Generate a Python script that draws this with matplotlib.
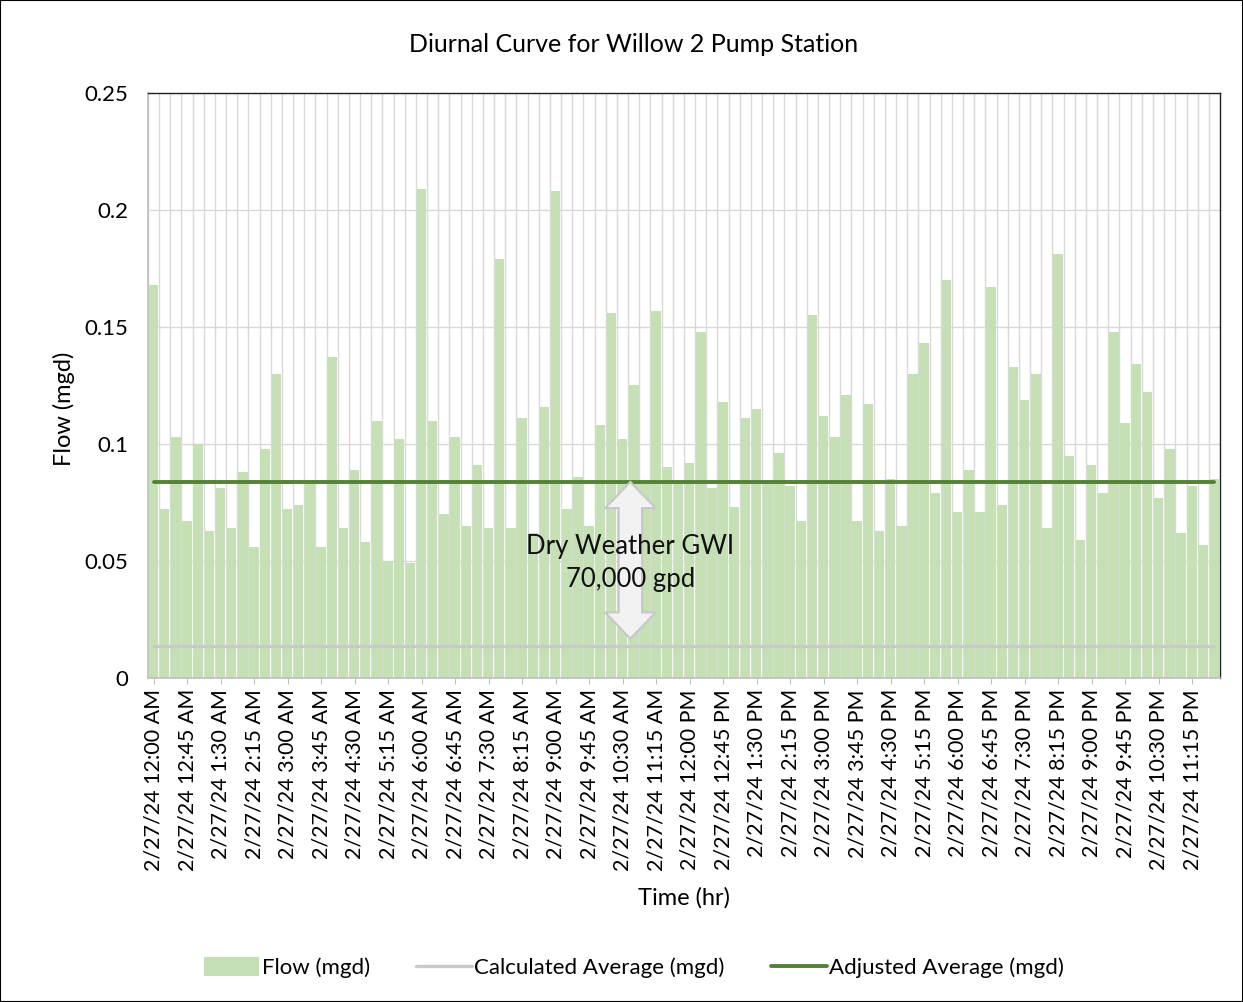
import matplotlib
matplotlib.use("Agg")
import matplotlib.pyplot as plt
from matplotlib.patches import Polygon, Rectangle
import numpy as np

plt.rcParams['font.family'] = ['Lato', 'DejaVu Sans']

# 15-minute flow readings for 2/27/24 (mgd)
flow = [
    0.168, 0.072, 0.103, 0.067, 0.100, 0.063, 0.081, 0.064, 0.088, 0.056,
    0.098, 0.130, 0.072, 0.074, 0.084, 0.056, 0.137, 0.064, 0.089, 0.058,
    0.110, 0.050, 0.102, 0.049, 0.209, 0.110, 0.070, 0.103, 0.065, 0.091,
    0.064, 0.179, 0.064, 0.111, 0.062, 0.116, 0.208, 0.072, 0.086, 0.065,
    0.108, 0.156, 0.102, 0.125, 0.083, 0.157, 0.090, 0.083, 0.092, 0.148,
    0.081, 0.118, 0.073, 0.111, 0.115, 0.083, 0.096, 0.082, 0.067, 0.155,
    0.112, 0.103, 0.121, 0.067, 0.117, 0.063, 0.085, 0.065, 0.130, 0.143,
    0.079, 0.170, 0.071, 0.089, 0.071, 0.167, 0.074, 0.133, 0.119, 0.130,
    0.064, 0.181, 0.095, 0.059, 0.091, 0.079, 0.148, 0.109, 0.134, 0.122,
    0.077, 0.098, 0.062, 0.082, 0.057, 0.085,
]
calc_avg = 0.0138
adj_avg = 0.0838
gwi_text = "Dry Weather GWI\n70,000 gpd"


def time_label(i):
    minutes = i * 15
    h, m = divmod(minutes, 60)
    ampm = "AM" if h < 12 else "PM"
    h12 = h % 12
    if h12 == 0:
        h12 = 12
    return "2/27/24 %d:%02d %s" % (h12, m, ampm)


times = [time_label(i) for i in range(len(flow))]
yticks = [0, 0.05, 0.1, 0.15, 0.2, 0.25]
ytick_labels = ["0", "0.05", "0.1", "0.15", "0.2", "0.25"]

n = len(flow)
x = np.arange(n)

fig = plt.figure(figsize=(12.43, 10.02), dpi=100)
ax = fig.add_axes([0.119, 0.3234, 0.8625, 0.5838])

# category gridlines sit between the bars
for b in np.arange(-0.5, n + 0.5, 1.0):
    ax.axvline(b, color="#d9d9d9", lw=1.0, zorder=0)
for yv in yticks[1:]:
    ax.axhline(yv, color="#d9d9d9", lw=1.0, zorder=0)

bars = ax.bar(x, flow, width=0.86, color="#c5e0b4", zorder=2)
calc_line, = ax.plot([x[0], x[-1]], [calc_avg, calc_avg], color="#c9c9c9", lw=2.4,
                     solid_capstyle="round", zorder=3)
adj_line, = ax.plot([x[0], x[-1]], [adj_avg, adj_avg], color="#548235", lw=2.8,
                    solid_capstyle="round", zorder=3)

# double-headed block arrow between the two averages
cx = 42.7
hw, sw = 2.25, 1.05
hl = 0.0112
top = adj_avg
bot = calc_avg + 0.003
pts = [
    (cx, top), (cx + hw, top - hl), (cx + sw, top - hl), (cx + sw, bot + hl),
    (cx + hw, bot + hl), (cx, bot), (cx - hw, bot + hl), (cx - sw, bot + hl),
    (cx - sw, top - hl), (cx - hw, top - hl),
]
ax.add_patch(Polygon(pts, closed=True, facecolor="#f2f2f2", edgecolor="#c8c8c8",
                     lw=1.5, zorder=4))
ax.text(cx, 0.049, gwi_text, ha="center", va="center",
        fontsize=18.5, color="#111111", zorder=5, linespacing=1.4)

ax.set_xlim(-0.5, n - 0.5)
ax.set_ylim(0, 0.25)
ax.set_yticks(yticks)
ax.set_yticklabels(ytick_labels, fontsize=16)
ax.set_xticks(x[::3])
ax.set_xticklabels(times[::3], rotation=90, fontsize=15.5)
ax.tick_params(axis="x", length=4, color="#bfbfbf", pad=4)
ax.tick_params(axis="y", length=0, pad=14)

for side in ["left", "bottom"]:
    ax.spines[side].set_color("#bfbfbf")
    ax.spines[side].set_linewidth(1.2)
for side in ["top", "right"]:
    ax.spines[side].set_color("#222222")
    ax.spines[side].set_linewidth(1.0)

fig.text(0.51, 1 - 44 / 1002, "Diurnal Curve for Willow 2 Pump Station",
         ha="center", va="center", fontsize=18)
ax.set_ylabel("Flow (mgd)", fontsize=17)
ax.yaxis.set_label_coords(-0.068, 0.46)
ax.set_xlabel("Time (hr)", fontsize=17)
ax.xaxis.set_label_coords(0.5, -0.357)

fig.legend([bars, calc_line, adj_line],
           ["Flow (mgd)", "Calculated Average (mgd)", "Adjusted Average (mgd)"],
           loc="center", bbox_to_anchor=(0.51, 0.034), ncol=3, frameon=False,
           fontsize=16, handlelength=2.5, handleheight=0.9, handletextpad=0.1,
           columnspacing=2.1)

fig.patches.append(Rectangle((0, 0), 1, 1, transform=fig.transFigure, fill=False,
                             edgecolor="#000000", lw=1.5))

fig.savefig("out.png", dpi=100)
